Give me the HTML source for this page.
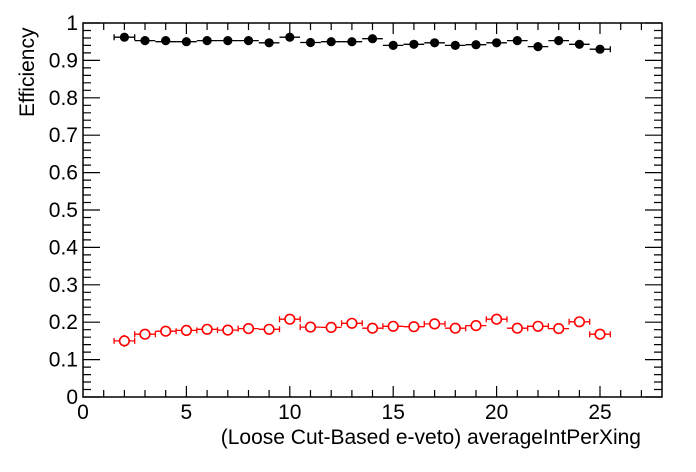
<!DOCTYPE html>
<html><head><meta charset="utf-8"><style>body{margin:0;background:#fff}svg{display:block}text{font-family:"Liberation Sans",Arial,sans-serif;font-size:21px;fill:#000}</style></head><body>
<svg width="696" height="472" viewBox="0 0 696 472" xmlns="http://www.w3.org/2000/svg">
<rect x="0" y="0" width="696" height="472" fill="#fff"/>
<rect x="83" y="23" width="579" height="374" fill="none" stroke="#000" stroke-width="1.5"/>
<g stroke="#000" stroke-width="1.2">
<path d="M83 397h17M83 359.6h17M83 322.2h17M83 284.8h17M83 247.4h17M83 210h17M83 172.6h17M83 135.2h17M83 97.8h17M83 60.4h17M83 23h17
M662 397h-17M662 359.6h-17M662 322.2h-17M662 284.8h-17M662 247.4h-17M662 210h-17M662 172.6h-17M662 135.2h-17M662 97.8h-17M662 60.4h-17M662 23h-17"/>
<path d="M83 389.5h8M83 382h8M83 374.6h8M83 367.1h8M83 352.1h8M83 344.6h8M83 337.2h8M83 329.7h8M83 314.7h8M83 307.2h8M83 299.8h8M83 292.3h8M83 277.3h8M83 269.8h8M83 262.4h8M83 254.9h8M83 239.9h8M83 232.4h8M83 225h8M83 217.5h8M83 202.5h8M83 195h8M83 187.6h8M83 180.1h8M83 165.1h8M83 157.6h8M83 150.2h8M83 142.7h8M83 127.7h8M83 120.2h8M83 112.8h8M83 105.3h8M83 90.3h8M83 82.8h8M83 75.4h8M83 67.9h8M83 52.9h8M83 45.4h8M83 38h8M83 30.5h8
M662 389.5h-8M662 382h-8M662 374.6h-8M662 367.1h-8M662 352.1h-8M662 344.6h-8M662 337.2h-8M662 329.7h-8M662 314.7h-8M662 307.2h-8M662 299.8h-8M662 292.3h-8M662 277.3h-8M662 269.8h-8M662 262.4h-8M662 254.9h-8M662 239.9h-8M662 232.4h-8M662 225h-8M662 217.5h-8M662 202.5h-8M662 195h-8M662 187.6h-8M662 180.1h-8M662 165.1h-8M662 157.6h-8M662 150.2h-8M662 142.7h-8M662 127.7h-8M662 120.2h-8M662 112.8h-8M662 105.3h-8M662 90.3h-8M662 82.8h-8M662 75.4h-8M662 67.9h-8M662 52.9h-8M662 45.4h-8M662 38h-8M662 30.5h-8"/>
<path d="M186.4 397v-11M289.8 397v-11M393.2 397v-11M496.6 397v-11M600 397v-11
M186.4 23v11M289.8 23v11M393.2 23v11M496.6 23v11M600 23v11
M103.7 397v-7M124.4 397v-7M145 397v-7M165.7 397v-7M207.1 397v-7M227.8 397v-7M248.5 397v-7M269.1 397v-7M310.5 397v-7M331.2 397v-7M351.9 397v-7M372.5 397v-7M413.9 397v-7M434.6 397v-7M455.3 397v-7M476 397v-7M517.3 397v-7M538 397v-7M558.7 397v-7M579.4 397v-7M620.7 397v-7M641.4 397v-7
M103.7 23v7M124.4 23v7M145 23v7M165.7 23v7M207.1 23v7M227.8 23v7M248.5 23v7M269.1 23v7M310.5 23v7M331.2 23v7M351.9 23v7M372.5 23v7M413.9 23v7M434.6 23v7M455.3 23v7M476 23v7M517.3 23v7M538 23v7M558.7 23v7M579.4 23v7M620.7 23v7M641.4 23v7"/>
</g>
<g text-anchor="end">
<text x="78" y="404">0</text><text x="78" y="366.6">0.1</text><text x="78" y="329.2">0.2</text><text x="78" y="291.8">0.3</text><text x="78" y="254.4">0.4</text><text x="78" y="217">0.5</text><text x="78" y="179.6">0.6</text><text x="78" y="142.2">0.7</text><text x="78" y="104.8">0.8</text><text x="78" y="67.4">0.9</text><text x="78" y="30">1</text>
</g>
<g text-anchor="middle">
<text x="83" y="419">0</text><text x="186.4" y="419">5</text><text x="289.8" y="419">10</text><text x="393.2" y="419">15</text><text x="496.6" y="419">20</text><text x="600" y="419">25</text>
</g>
<text x="641" y="444" text-anchor="end">(Loose Cut-Based e-veto) averageIntPerXing</text>
<text transform="translate(34,117) rotate(-90)" text-anchor="start">Efficiency</text>

<g stroke="#000" stroke-width="1.3" fill="#000">
<path fill="none" d="M114.1 37.2h20.6M114.1 34.2v6M134.7 34.2v6
M134.7 40.6h20.6M155.4 41.7h20.6M176.1 41.7h20.6M196.8 40.6h20.6M217.5 40.6h20.6M238.2 40.6h20.6M258.8 42.8h20.6M279.5 37.2h20.6M300.2 42.5h20.6M320.9 41.7h20.6M341.6 41.7h20.6M362.2 38.7h20.6M382.9 45.4h20.6M403.6 44.3h20.6M424.3 42.8h20.6M445 45.4h20.6M465.7 44.7h20.6M486.3 42.8h20.6M507 40.6h20.6M527.7 46.6h20.6M548.4 40.6h20.6M569.1 44.3h20.6M589.7 49.2h20.6M610.3 46.2v6"/>
<g stroke="none">
<circle cx="124.4" cy="37.2" r="4.6"/><circle cx="145" cy="40.6" r="4.6"/><circle cx="165.7" cy="40.6" r="4.6"/><circle cx="186.4" cy="41.7" r="4.6"/><circle cx="207.1" cy="40.6" r="4.6"/><circle cx="227.8" cy="40.6" r="4.6"/><circle cx="248.5" cy="40.6" r="4.6"/><circle cx="269.1" cy="42.8" r="4.6"/><circle cx="289.8" cy="37.2" r="4.6"/><circle cx="310.5" cy="42.5" r="4.6"/><circle cx="331.2" cy="41.7" r="4.6"/><circle cx="351.9" cy="41.7" r="4.6"/><circle cx="372.5" cy="38.7" r="4.6"/><circle cx="393.2" cy="45.4" r="4.6"/><circle cx="413.9" cy="44.3" r="4.6"/><circle cx="434.6" cy="42.8" r="4.6"/><circle cx="455.3" cy="45.4" r="4.6"/><circle cx="476" cy="44.7" r="4.6"/><circle cx="496.6" cy="42.8" r="4.6"/><circle cx="517.3" cy="40.6" r="4.6"/><circle cx="538" cy="46.6" r="4.6"/><circle cx="558.7" cy="40.6" r="4.6"/><circle cx="579.4" cy="44.3" r="4.6"/><circle cx="600" cy="49.2" r="4.6"/>
</g>
</g>

<g stroke="#f00" stroke-width="1.3" fill="none">
<path d="M114.1 340.9h20.6M114.1 337.9v6M134.7 337.9v6M124.4 334.9v12
M134.7 334.2h20.6M134.7 331.2v6M155.4 331.2v6
M155.4 331.2h20.6M176.1 328.2v6
M176.1 330.4h20.6M196.8 327.4v6
M196.8 329.3h20.6
M217.5 330.1h20.6M217.5 327.1v6
M238.2 328.6h20.6M238.2 325.6v6
M258.8 329.3h20.6M279.5 326.3v6
M279.5 319.2h20.6M279.5 316.2v6M300.2 316.2v6M289.8 314.2v10
M300.2 327.1h20.6M320.9 327.4h20.6M341.6 323.3h20.6M362.2 328.2h20.6M382.9 326.3h20.6M403.6 326.7h20.6M424.3 323.9h20.6M445 328.2h20.6M465.7 325.6h20.6M486.3 319.2h20.6M507 328.2h20.6M527.7 326.3h20.6M548.4 328.6h20.6M569.1 321.8h20.6M589.7 334.2h20.6
M300.2 324.1v6M341.6 320.3v6M362.2 320.3v6M382.9 323.3v6M424.3 320.9v6M445 320.9v6M465.7 325.2v6M486.3 316.2v6M507 316.2v6M527.7 325.2v6M548.4 323.3v6M569.1 318.8v6M589.7 318.8v6M589.7 331.2v6M610.3 331.2v6
M496.6 314.2v10M579.4 316.8v10M600 329.2v10M372.5 323.2v10M434.6 318.9v10M351.9 318.3v10"/>
<g fill="#fff" stroke-width="1.6">
<circle cx="124.4" cy="340.9" r="4.8"/><circle cx="145" cy="334.2" r="4.8"/><circle cx="165.7" cy="331.2" r="4.8"/><circle cx="186.4" cy="330.4" r="4.8"/><circle cx="207.1" cy="329.3" r="4.8"/><circle cx="227.8" cy="330.1" r="4.8"/><circle cx="248.5" cy="328.6" r="4.8"/><circle cx="269.1" cy="329.3" r="4.8"/><circle cx="289.8" cy="319.2" r="4.8"/><circle cx="310.5" cy="327.1" r="4.8"/><circle cx="331.2" cy="327.4" r="4.8"/><circle cx="351.9" cy="323.3" r="4.8"/><circle cx="372.5" cy="328.2" r="4.8"/><circle cx="393.2" cy="326.3" r="4.8"/><circle cx="413.9" cy="326.7" r="4.8"/><circle cx="434.6" cy="323.9" r="4.8"/><circle cx="455.3" cy="328.2" r="4.8"/><circle cx="476" cy="325.6" r="4.8"/><circle cx="496.6" cy="319.2" r="4.8"/><circle cx="517.3" cy="328.2" r="4.8"/><circle cx="538" cy="326.3" r="4.8"/><circle cx="558.7" cy="328.6" r="4.8"/><circle cx="579.4" cy="321.8" r="4.8"/><circle cx="600" cy="334.2" r="4.8"/>
</g>
</g>
</svg>
</body></html>
